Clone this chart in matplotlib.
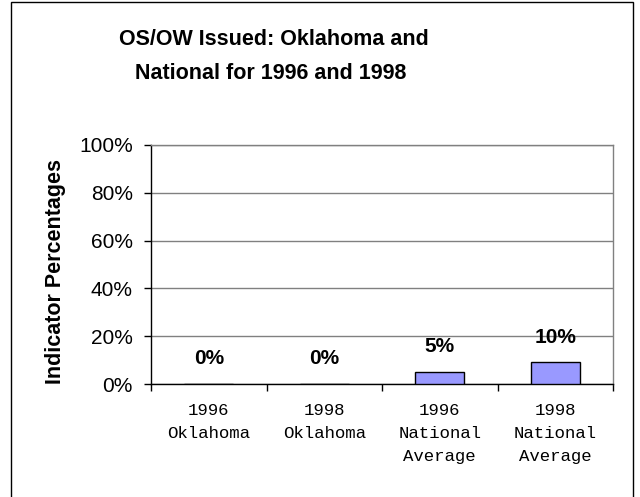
import matplotlib
matplotlib.use("Agg")
import matplotlib.pyplot as plt
from matplotlib.patches import Rectangle
from matplotlib.ticker import FuncFormatter, MultipleLocator

categories = ["1996\nOklahoma", "1998\nOklahoma", "1996\nNational\nAverage", "1998\nNational\nAverage"]
values = [0, 0, 5, 9]
value_labels = ["0%", "0%", "5%", "10%"]
title_lines = ["OS/OW Issued: Oklahoma and", "National for 1996 and 1998"]
ylabel = "Indicator Percentages"

W, H = 640, 497
fig = plt.figure(figsize=(W / 100, H / 100), dpi=100)
ax = fig.add_axes([151 / W, 1 - 384 / H, (613 - 151) / W, (384 - 145) / H])

x = range(len(categories))
ax.bar(x, values, width=0.42, color="#9999FF", edgecolor="black", linewidth=1.0, zorder=3)

for xi, v, lab in zip(x, values, value_labels):
    ax.text(xi, v + 10.5, lab, ha="center", va="center", fontsize=15,
            fontweight="bold", family="Liberation Sans", zorder=4)

ax.set_xlim(-0.5, len(categories) - 0.5)
ax.set_ylim(0, 100)
ax.yaxis.set_major_locator(MultipleLocator(20))
ax.yaxis.set_major_formatter(FuncFormatter(lambda v, _: f"{v:.0f}%"))
ax.grid(axis="y", color="#808080", linewidth=1.0, zorder=0)

ax.set_xticks(list(x))
ax.set_xticklabels(categories, family="Liberation Mono", fontsize=12.5, linespacing=1.65,
                   va="top")
ax.set_xticks([i - 0.5 for i in range(len(categories) + 1)], minor=True)
ax.tick_params(axis="x", which="major", length=0, pad=14)
ax.tick_params(axis="x", which="minor", length=5, width=1.0, direction="out")
ax.tick_params(axis="y", length=5, width=1.0, direction="out", pad=8)
for lab in ax.get_yticklabels():
    lab.set_family("Liberation Sans")
    lab.set_fontsize(15)

for side in ["left", "bottom"]:
    ax.spines[side].set_color("black")
    ax.spines[side].set_linewidth(1.0)
for side in ["top", "right"]:
    ax.spines[side].set_color("#808080")
    ax.spines[side].set_linewidth(1.0)

fig.text(56 / W, 1 - 271.5 / H, ylabel, rotation=90, ha="center", va="center",
         fontsize=15.5, fontweight="bold", family="Liberation Sans")

fig.text(274 / W, 1 - 45 / H, title_lines[0], ha="center", va="baseline",
         fontsize=15.5, fontweight="bold", family="Liberation Sans")
fig.text(271 / W, 1 - 79 / H, title_lines[1], ha="center", va="baseline",
         fontsize=15.5, fontweight="bold", family="Liberation Sans")

fig.patches.append(Rectangle((11 / W, -0.01), (633 - 11) / W, 1.01 - 1.5 / H,
                             transform=fig.transFigure, fill=False,
                             edgecolor="black", linewidth=1.0))

fig.savefig("out.png", dpi=100)
